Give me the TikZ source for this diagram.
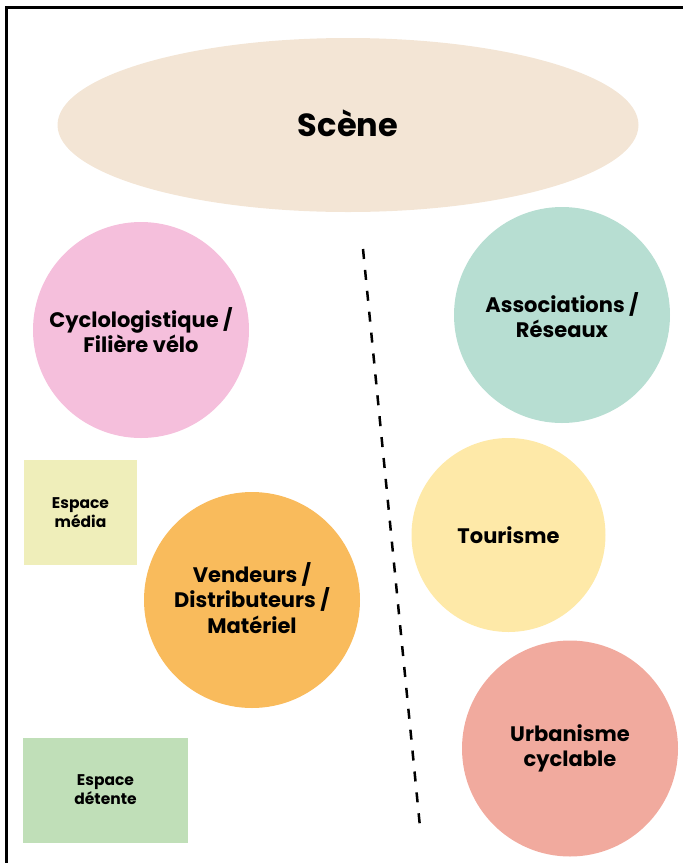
\documentclass[tikz,border=0pt]{standalone}
\usepackage{fontspec}
\setmainfont{Poppins}
\usetikzlibrary{shapes.geometric}

\definecolor{scene}{HTML}{F3E5D5}
\definecolor{rose}{HTML}{F5BFDC}
\definecolor{menthe}{HTML}{B7DED2}
\definecolor{jaune}{HTML}{FEE9A8}
\definecolor{orange}{HTML}{F9BB5C}
\definecolor{saumon}{HTML}{F1AA9E}
\definecolor{media}{HTML}{EFEEBA}
\definecolor{detente}{HTML}{C0DFB8}

\begin{document}
\begin{tikzpicture}[x=1pt, y=-1pt, thick,
        zone/.style = {circle, inner sep=0pt, minimum size=216pt, align=center,
            font=\fontsize{21}{25.5}\selectfont\bfseries},
        espace/.style = {rectangle, inner sep=0pt, align=center,
            font=\fontsize{15.5}{19}\selectfont\bfseries}]
                \useasboundingbox (0,0) rectangle (683,863);
                \draw[line width=3pt] (6,863) -- (6,7) -- (683,7);
                \node[ellipse, fill=scene, minimum width=581pt, minimum height=174pt,
                    font=\fontsize{32}{36}\selectfont\bfseries] (scene) at (348,125) {\raisebox{4pt}{Sc\`ene}};
                \node[zone, fill=rose] (1) at (141,330) {Cyclologistique /\\Fili\`ere v\'elo};
                \node[zone, fill=menthe] (2) at (562,315) {Associations /\\R\'eseaux};
                \node[zone, fill=jaune, minimum size=194pt] (3) at (508.5,535) {\raisebox{-3pt}{Tourisme}};
                \node[zone, fill=orange] (4) at (252,600) {\raisebox{4pt}{Vendeurs /}\\\raisebox{4pt}{Distributeurs /}\\\raisebox{4pt}{Mat\'eriel}};
                \node[zone, fill=saumon] (5) at (570,748.5) {\raisebox{-4pt}{Urbanisme}\\\raisebox{-4pt}{cyclable}};
                \node[espace, fill=media, minimum width=113pt, minimum height=105pt] (6) at (80.5,512.5) {Espace\\m\'edia};
                \node[espace, fill=detente, minimum width=165pt, minimum height=105pt] (7) at (105.5,790.5) {\raisebox{2pt}{Espace}\\\raisebox{2pt}{d\'etente}};
                \coordinate (a) at (363,249);
                \coordinate (b) at (420,827);
                \draw[line width=2.5pt, dash pattern=on 10pt off 11pt] (a) -- (b);
            \end{tikzpicture}
\end{document}
